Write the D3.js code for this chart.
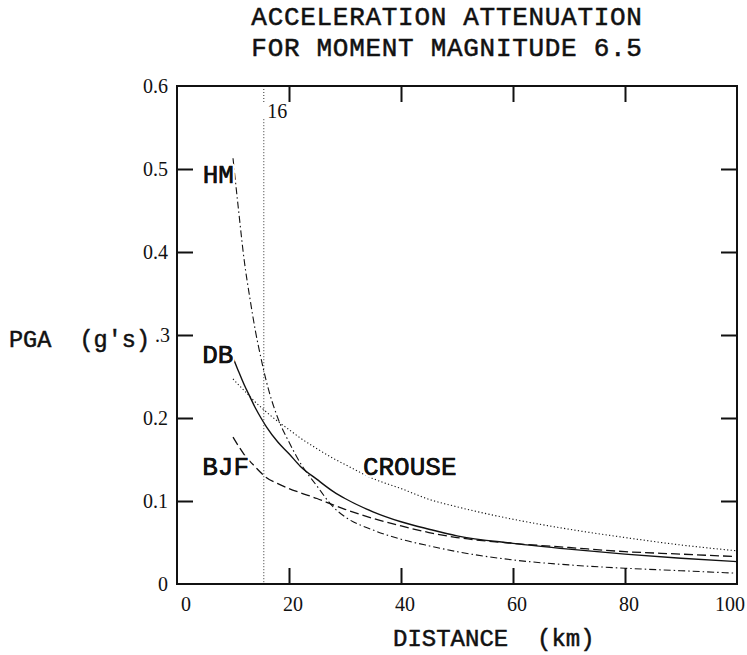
<!DOCTYPE html>
<html><head><meta charset="utf-8">
<script src="https://cdn.jsdelivr.net/npm/d3@7"></script>
<style>body{margin:0;background:#fff}svg{display:block}</style>
</head><body>
<svg id="chart" width="747" height="655"></svg>
<script>
// ---- data ----
const titleLines = ["ACCELERATION ATTENUATION", "FOR MOMENT MAGNITUDE 6.5"];
const xLabel = "DISTANCE  (km)";
const yLabel = "PGA  (g's)";
const xTicks = [0, 20, 40, 60, 80, 100];
const xTickLabels = ["0", "20", "40", "60", "80", "100"];
const yTicks = [0, 0.1, 0.2, 0.3, 0.4, 0.5, 0.6];
const yTickLabels = ["0", "0.1", "0.2", ".3", "0.4", "0.5", "0.6"];

const distance = [10, 11, 12, 13, 14, 15, 16, 18, 20, 22, 25, 28, 30, 35, 40, 45, 50, 60, 70, 80, 90, 100];
const pgaHM     = [0.513, 0.450, 0.390, 0.345, 0.305, 0.272, 0.243, 0.200, 0.171, 0.146, 0.118, 0.092, 0.081, 0.065, 0.054, 0.046, 0.039, 0.029, 0.023, 0.019, 0.016, 0.013];
const pgaDB     = [0.273, 0.256, 0.240, 0.226, 0.212, 0.200, 0.189, 0.171, 0.157, 0.142, 0.126, 0.111, 0.103, 0.087, 0.075, 0.066, 0.058, 0.049, 0.042, 0.036, 0.031, 0.027];
const pgaBJF    = [0.177, 0.166, 0.156, 0.148, 0.141, 0.134, 0.128, 0.121, 0.115, 0.110, 0.103, 0.095, 0.090, 0.079, 0.070, 0.062, 0.056, 0.049, 0.044, 0.039, 0.036, 0.033];
const pgaCROUSE = [0.247, 0.240, 0.233, 0.226, 0.219, 0.213, 0.207, 0.196, 0.186, 0.176, 0.163, 0.151, 0.144, 0.127, 0.115, 0.102, 0.093, 0.078, 0.066, 0.056, 0.047, 0.040];

const seriesNames = ["HM", "DB", "BJF", "CROUSE"];
const labelDist = [4.6, 4.5, 4.5, 33.2];
const labelPga  = [0.483, 0.266, 0.131, 0.131];
const refDistance = 15.5;
const refLabel = "16";

// ---- drawing ----
const svg = d3.select("#chart");
const mono = "'Liberation Mono','Courier New',monospace";
const serif = "'Liberation Serif','Times New Roman',serif";
const ink = "#111";

const x = d3.scaleLinear().domain([0, 100]).range([177, 737]);
const y = d3.scaleLinear().domain([0, 0.6]).range([584, 86]);

function monoText(sel, size) {
  return sel.style("font-family", mono).style("font-size", size + "px")
    .attr("fill", ink).attr("stroke", ink).attr("stroke-width", 0.5)
    .style("white-space", "pre");
}

// title
monoText(svg.append("g").selectAll("text").data(titleLines).join("text")
  .attr("x", 447).attr("y", (d, i) => 25 + i * 31)
  .attr("text-anchor", "middle")
  .style("letter-spacing", "0.7px"), 26)
  .text(d => d);

// curves
const styles = {
  HM:     {dash: "7,3,1.5,3", w: 1.1},
  DB:     {dash: null, w: 1.4},
  BJF:    {dash: "9,4", w: 1.3},
  CROUSE: {dash: "1.2,2.3", w: 1.1}
};
const seriesVals = {HM: pgaHM, DB: pgaDB, BJF: pgaBJF, CROUSE: pgaCROUSE};
const line = d3.line().x(d => x(d[0])).y(d => y(d[1])).curve(d3.curveMonotoneX);
const gCurves = svg.append("g");
seriesNames.forEach(name => {
  const pts = distance.map((dd, i) => [dd, seriesVals[name][i]]);
  gCurves.append("path").datum(pts)
    .attr("d", line).attr("fill", "none").attr("stroke", ink)
    .attr("stroke-width", styles[name].w)
    .attr("stroke-dasharray", styles[name].dash);
});

// reference vertical dotted line
svg.append("line")
  .attr("x1", x(refDistance)).attr("x2", x(refDistance))
  .attr("y1", y(0.6)).attr("y2", y(0.58))
  .attr("stroke", "#333").attr("stroke-width", 1).attr("stroke-dasharray", "1,2");
svg.append("line")
  .attr("x1", x(refDistance)).attr("x2", x(refDistance))
  .attr("y1", y(0.56)).attr("y2", y(0))
  .attr("stroke", "#333").attr("stroke-width", 1).attr("stroke-dasharray", "1,2");
svg.append("text")
  .attr("x", x(16.1)).attr("y", y(0.562))
  .style("font-family", serif).style("font-size", "20px").attr("fill", ink)
  .text(refLabel);

// series labels
const gLab = svg.append("g");
seriesNames.forEach((name, i) => {
  gLab.append("text")
    .attr("x", x(labelDist[i])).attr("y", y(labelPga[i]))
    .style("font-family", mono).style("font-size", "26px")
    .attr("fill", ink)
    .attr("stroke", "#fff").attr("stroke-width", 5).attr("paint-order", "stroke")
    .attr("stroke-linejoin", "round")
    .text(name);
  gLab.append("text")
    .attr("x", x(labelDist[i])).attr("y", y(labelPga[i]))
    .style("font-family", mono).style("font-size", "26px")
    .attr("fill", ink).attr("stroke", ink).attr("stroke-width", 0.5)
    .text(name);
});

// frame
svg.append("rect")
  .attr("x", x(0)).attr("y", y(0.6))
  .attr("width", x(100) - x(0)).attr("height", y(0) - y(0.6))
  .attr("fill", "none").attr("stroke", ink).attr("stroke-width", 2);

// inward ticks on four sides
const tickLen = 16;
const innerX = xTicks.filter(v => v > 0 && v < 100);
const innerY = yTicks.filter(v => v > 0 && v < 0.6);
const gBottom = svg.append("g").attr("transform", `translate(0,${y(0)})`)
  .call(d3.axisBottom(x).tickValues(innerX).tickSize(-tickLen).tickFormat(""));
const gTop = svg.append("g").attr("transform", `translate(0,${y(0.6)})`)
  .call(d3.axisTop(x).tickValues(innerX).tickSize(-tickLen).tickFormat(""));
const gLeft = svg.append("g").attr("transform", `translate(${x(0)},0)`)
  .call(d3.axisLeft(y).tickValues(innerY).tickSize(-tickLen).tickFormat(""));
const gRight = svg.append("g").attr("transform", `translate(${x(100)},0)`)
  .call(d3.axisRight(y).tickValues(innerY).tickSize(-tickLen).tickFormat(""));
[gBottom, gTop, gLeft, gRight].forEach(g => {
  g.select(".domain").remove();
  g.selectAll(".tick line").attr("stroke", ink).attr("stroke-width", 2);
});

// x tick labels
svg.append("g").selectAll("text").data(xTicks).join("text")
  .attr("x", d => x(d) + (d === 0 ? 9 : d === 100 ? -7 : 4))
  .attr("y", 611)
  .attr("text-anchor", "middle")
  .style("font-family", serif).style("font-size", "20px").attr("fill", ink)
  .text((d, i) => xTickLabels[i]);

// y tick labels
svg.append("g").selectAll("text").data(yTicks).join("text")
  .attr("x", d => x(0) - (d === 0.3 ? 7 : 9))
  .attr("y", d => y(d) + 7)
  .attr("text-anchor", "end")
  .style("font-family", serif).style("font-size", "20px").attr("fill", ink)
  .text((d, i) => yTickLabels[i]);

// axis titles
monoText(svg.append("text").attr("x", 9).attr("y", 347), 23.5).text(yLabel);
monoText(svg.append("text").attr("x", 393).attr("y", 646), 24).text(xLabel);
</script>
</body></html>
